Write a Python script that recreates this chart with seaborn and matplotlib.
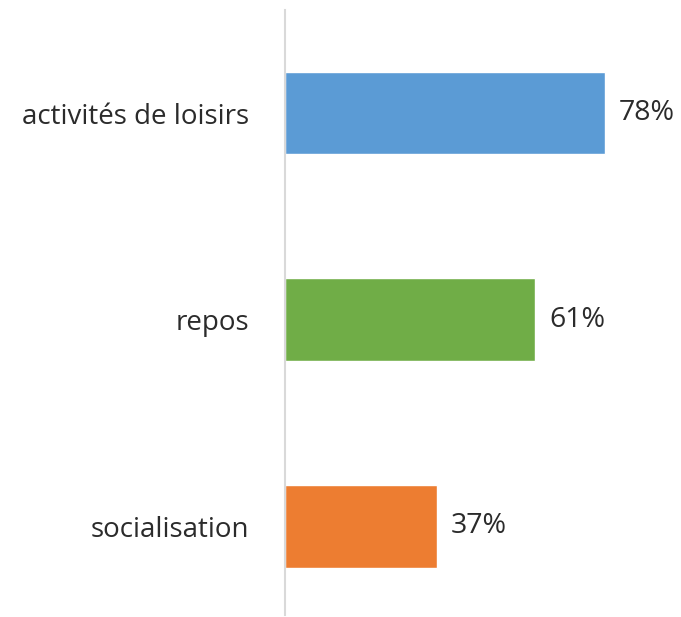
import matplotlib.pyplot as plt
import seaborn as sns
import pandas as pd

sns.set_theme(style='white')
plt.rcParams['font.family'] = ['Open Sans', 'DejaVu Sans']

# donnees
categories = ["activités de loisirs", "repos", "socialisation"]
valeurs = [78, 61, 37]
couleurs = ["#5B9BD5", "#70AD47", "#ED7D31"]

df = pd.DataFrame({"categorie": categories, "valeur": valeurs})

fig = plt.figure(figsize=(6.81, 6.17), dpi=100)
ax = fig.add_axes([0.4185, 0.003, 0.578, 0.981])

sns.barplot(data=df, x="valeur", y="categorie", hue="categorie",
            palette=couleurs, saturation=1, width=0.4, legend=False, ax=ax)

for cont in ax.containers:
    ax.bar_label(cont, labels=[f"{v:.0f}%" for v in cont.datavalues],
                 padding=10, fontsize=20.5, color="#2b2b2b")

ax.set_xlim(0, 96)
ax.set_ylim(2.43, -0.5)
ax.set_xlabel("")
ax.set_ylabel("")
ax.set_xticks([])
ax.tick_params(axis='y', length=0, pad=26, labelsize=20, labelcolor="#2b2b2b")

for s in ["top", "right", "bottom"]:
    ax.spines[s].set_visible(False)
ax.spines["left"].set_color("#D9D9D9")
ax.spines["left"].set_linewidth(1.5)

plt.savefig("out.png", dpi=100)
